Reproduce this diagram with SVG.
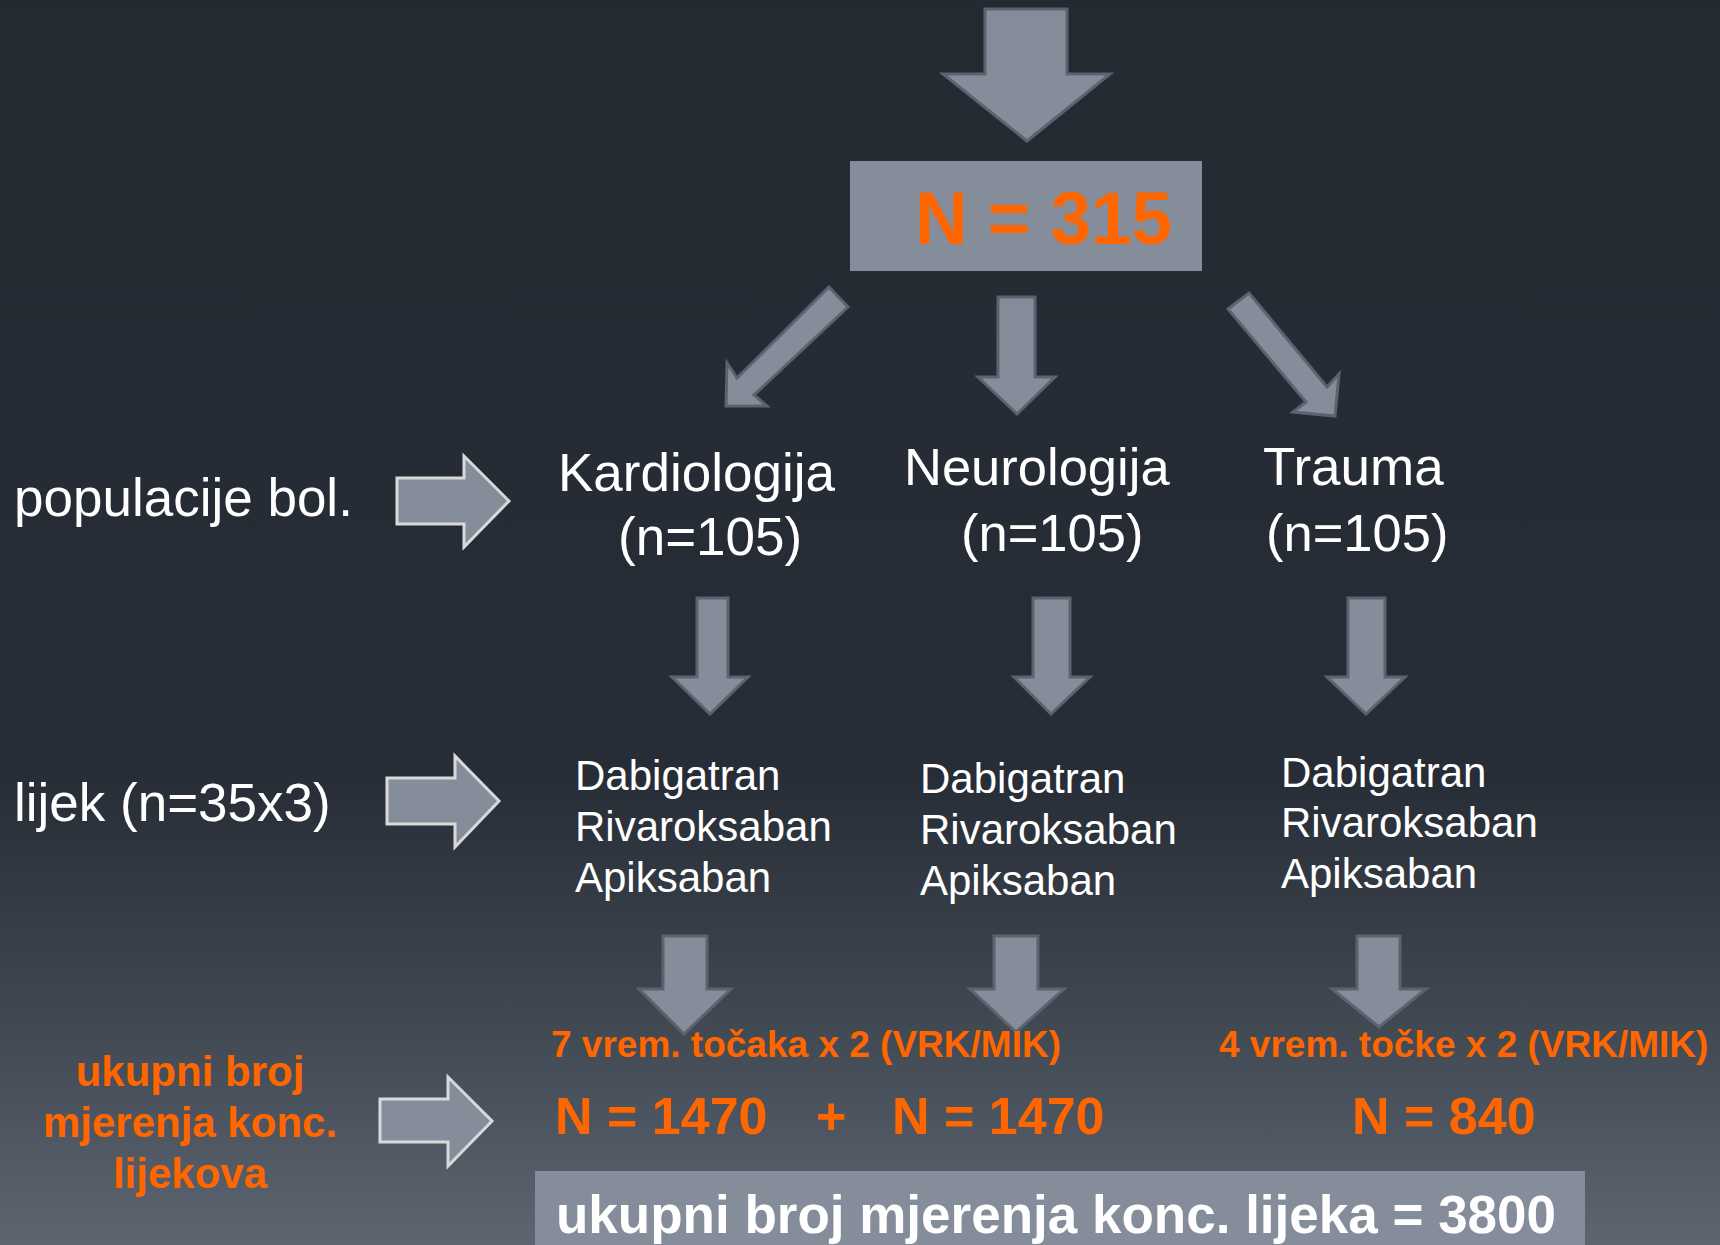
<svg xmlns="http://www.w3.org/2000/svg" width="1720" height="1245" viewBox="0 0 1720 1245">
<defs>
<linearGradient id="bg" x1="0" y1="0" x2="0" y2="1">
<stop offset="0" stop-color="#242a32"/>
<stop offset="0.62" stop-color="#272d36"/>
<stop offset="0.8" stop-color="#3d454f"/>
<stop offset="1" stop-color="#5c6570"/>
</linearGradient>
<style>
.ad{fill:#858d9b;stroke:#5c6370;stroke-width:3;stroke-linejoin:miter}
.al{fill:#858d9b;stroke:#d9d9d9;stroke-width:3;stroke-linejoin:miter}
.w{fill:#ffffff;font-family:"Liberation Sans",Arial,sans-serif}
.o{fill:#ff6600;font-family:"Liberation Sans",Arial,sans-serif;font-weight:bold}
.box{fill:#858d9b}
</style>
</defs>
<rect x="0" y="0" width="1720" height="1245" fill="url(#bg)"/>

<g id="connectors">
<polygon class="ad" points="985,9 1067,9 1067,74 1110,74 1027,141 943,74 985,74"/>
<polygon class="ad" points="829,287 848,307 754,395 767,406 726,406 727,363 737,378"/>
<polygon class="ad" points="998,297 1035,297 1035,377 1055,377 1017,414 978,377 998,377"/>
<polygon class="ad" points="1228,309 1249,293 1327,387 1339,374 1335,416 1293,412 1306,402"/>
<polygon class="ad" points="697,598 728,598 728,677 748,677 710,714 672,677 697,677"/>
<polygon class="ad" points="1033,598 1070,598 1070,677 1090,677 1051,714 1014,677 1033,677"/>
<polygon class="ad" points="1348,598 1385,598 1385,677 1405,677 1366,714 1327,677 1348,677"/>
<polygon class="ad" points="663,936 707,936 707,989 731,989 684,1034 639,989 663,989"/>
<polygon class="ad" points="994,936 1038,936 1038,989 1064,989 1016,1032 970,989 994,989"/>
<polygon class="ad" points="1357,936 1400,936 1400,989 1426,989 1379,1027 1332,989 1357,989"/>
<polygon class="al" points="397,478 464,478 464,456 509,501 464,547 464,524 397,524"/>
<polygon class="al" points="387,778 455,778 455,756 499,801 455,847 455,824 387,824"/>
<polygon class="al" points="380,1099 448,1099 448,1077 492,1121 448,1166 448,1142 380,1142"/>
</g>

<g id="n315">
<rect class="box" x="850" y="161" width="352" height="110"/>
<text class="o" x="915" y="244" font-size="75" textLength="257" lengthAdjust="spacingAndGlyphs">N = 315</text>
</g>

<g id="label-populacije">
<text class="w" x="14" y="516" font-size="53">populacije bol.</text>
</g>
<g id="label-lijek">
<text class="w" x="14" y="821" font-size="53">lijek (n=35x3)</text>
</g>
<g id="label-ukupni">
<text class="o" x="190" y="1086" font-size="42" text-anchor="middle">ukupni broj</text>
<text class="o" x="190" y="1137" font-size="42" text-anchor="middle">mjerenja konc.</text>
<text class="o" x="190" y="1188" font-size="42" text-anchor="middle">lijekova</text>
</g>

<g id="kardiologija">
<text class="w" x="558" y="491" font-size="53">Kardiologija</text>
<text class="w" x="618" y="555" font-size="53">(n=105)</text>
</g>
<g id="neurologija">
<text class="w" x="904" y="485" font-size="52.5">Neurologija</text>
<text class="w" x="961" y="551" font-size="52.5">(n=105)</text>
</g>
<g id="trauma">
<text class="w" x="1263" y="485" font-size="53">Trauma</text>
<text class="w" x="1266" y="551" font-size="52.5">(n=105)</text>
</g>

<g id="lijek-1">
<text class="w" x="575" y="790" font-size="42">Dabigatran</text>
<text class="w" x="575" y="841" font-size="42">Rivaroksaban</text>
<text class="w" x="575" y="892" font-size="42">Apiksaban</text>
</g>
<g id="lijek-2">
<text class="w" x="920" y="793" font-size="42">Dabigatran</text>
<text class="w" x="920" y="844" font-size="42">Rivaroksaban</text>
<text class="w" x="920" y="895" font-size="42">Apiksaban</text>
</g>
<g id="lijek-3">
<text class="w" x="1281" y="787" font-size="42">Dabigatran</text>
<text class="w" x="1281" y="837" font-size="42">Rivaroksaban</text>
<text class="w" x="1281" y="888" font-size="42">Apiksaban</text>
</g>

<g id="vrem-1">
<text class="o" x="551" y="1057" font-size="37">7 vrem. točaka x 2 (VRK/MIK)</text>
</g>
<g id="vrem-2">
<text class="o" x="1219" y="1057" font-size="37">4 vrem. točke x 2 (VRK/MIK)</text>
</g>
<g id="n1470-a">
<text class="o" x="555" y="1134" font-size="52">N = 1470</text>
</g>
<g id="plus">
<text class="o" x="816" y="1134" font-size="52">+</text>
</g>
<g id="n1470-b">
<text class="o" x="892" y="1134" font-size="52">N = 1470</text>
</g>
<g id="n840">
<text class="o" x="1352" y="1134" font-size="52">N = 840</text>
</g>

<g id="total">
<rect class="box" x="535" y="1171" width="1050" height="80"/>
<text x="556" y="1233" font-size="53" font-weight="bold" fill="#ffffff" font-family="Liberation Sans, Arial, sans-serif">ukupni broj mjerenja konc. lijeka = 3800</text>
</g>
</svg>
